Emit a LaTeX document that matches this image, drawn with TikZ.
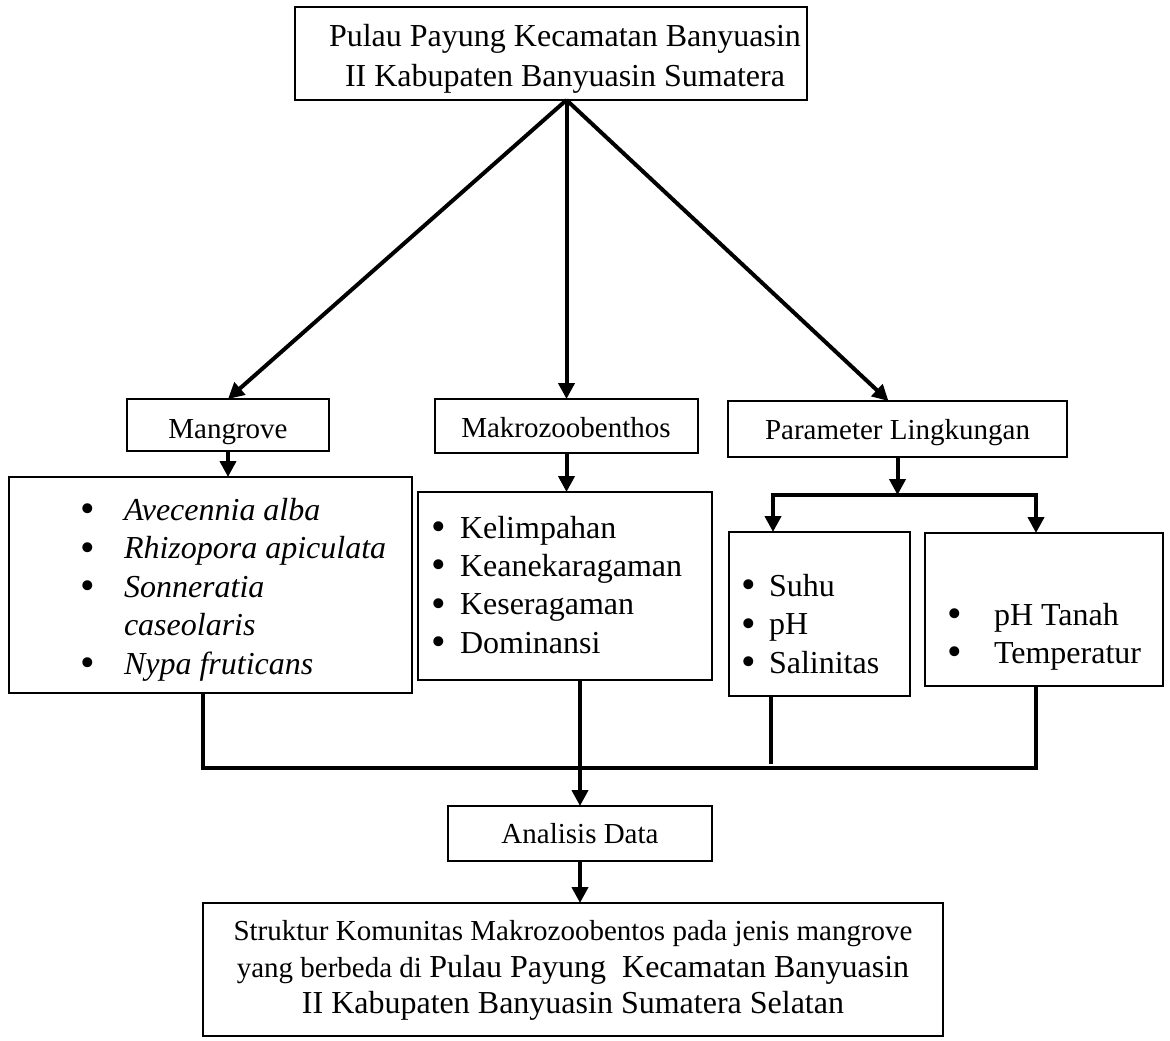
\documentclass[tikz,border=0pt]{standalone}
\usepackage{fontspec}
\setmainfont{Liberation Serif}
\usetikzlibrary{arrows.meta}
\newcommand\mybul{\raisebox{-2.5pt}{\scalebox{1.3}{\textbullet}}}
\begin{document}
\begin{tikzpicture}[x=1pt,y=-1pt,
  box/.style={draw, line width=2.7pt, inner sep=0pt, outer sep=0pt},
  thinbox/.style={draw, line width=1.3pt, inner sep=0pt, outer sep=0pt},
  txt/.style={inner sep=0pt, outer sep=0pt, anchor=base},
  big/.style={font=\fontsize{32}{38}\selectfont},
  small/.style={font=\fontsize{29}{35}\selectfont},
  itm/.style={inner sep=0pt, outer sep=0pt, anchor=base west, font=\fontsize{32}{38}\selectfont},
  conn/.style={line width=4pt, line join=miter},
  arr/.style={line width=4pt, line join=miter, -{Triangle[length=16pt,width=16pt]}},
]
\useasboundingbox (0,0) rectangle (1170,1041);

% boxes
\node[box, minimum width=512pt, minimum height=93pt] (top) at (551,53.5) {};
\node[box, minimum width=202pt, minimum height=52pt] (mang) at (228,425) {};
\node[box, minimum width=263pt, minimum height=54pt] (makro) at (566.5,426) {};
\node[box, minimum width=339pt, minimum height=56pt] (param) at (897.5,429) {};
\node[box, minimum width=403pt, minimum height=216pt] (mlist) at (210.5,585) {};
\node[box, minimum width=294pt, minimum height=188pt] (klist) at (565,586) {};
\node[box, minimum width=181pt, minimum height=164pt] (slist) at (819.5,614) {};
\node[thinbox, minimum width=238pt, minimum height=153pt] (tlist) at (1044,609.5) {};
\node[box, minimum width=264pt, minimum height=55pt] (anal) at (580,833.5) {};
\node[box, minimum width=740pt, minimum height=133pt] (final) at (573,969.5) {};

% texts
\node[txt, big] (t1) at (565,47) {Pulau Payung Kecamatan Banyuasin};
\node[txt, big] (t2) at (565,87) {II Kabupaten Banyuasin Sumatera};
\node[txt, small] (mangt) at (228,438) {Mangrove};
\node[txt, small] (makrot) at (566,437) {Makrozoobenthos};
\node[txt, small] (paramt) at (897.5,439) {Parameter Lingkungan};
\node[txt, small] (analt) at (580,843) {Analisis Data};
\node[txt, small] (f1) at (573,940) {Struktur Komunitas Makrozoobentos pada jenis mangrove};
\node[txt] (f2) at (573,977) {{\fontsize{29}{35}\selectfont yang berbeda di }{\fontsize{32}{38}\selectfont Pulau Payung\ \ Kecamatan Banyuasin}};
\node[txt, big] (f3) at (573,1013) {II Kabupaten Banyuasin Sumatera Selatan};

% mangrove list
\node[itm] (m1) at (80,520) {\makebox[44pt][l]{\mybul}\textit{Avecennia alba}};
\node[itm] (m2) at (80,558.5) {\makebox[44pt][l]{\mybul}\textit{Rhizopora apiculata}};
\node[itm] (m3) at (80,597) {\makebox[44pt][l]{\mybul}\textit{Sonneratia}};
\node[itm] (m3b) at (124,635.5) {\textit{caseolaris}};
\node[itm] (m4) at (80,674) {\makebox[44pt][l]{\mybul}\textit{Nypa fruticans}};

% makro list
\node[itm] (k1) at (431,538) {\makebox[29pt][l]{\mybul}Kelimpahan};
\node[itm] (k2) at (431,576.3) {\makebox[29pt][l]{\mybul}Keanekaragaman};
\node[itm] (k3) at (431,614.6) {\makebox[29pt][l]{\mybul}Keseragaman};
\node[itm] (k4) at (431,653) {\makebox[29pt][l]{\mybul}Dominansi};

% suhu list
\node[itm] (s1) at (741,596) {\makebox[28pt][l]{\mybul}Suhu};
\node[itm] (s2) at (741,634.5) {\makebox[28pt][l]{\mybul}pH};
\node[itm] (s3) at (741,673) {\makebox[28pt][l]{\mybul}Salinitas};

% tanah list
\node[itm] (p1) at (947,625) {\makebox[47pt][l]{\mybul}pH Tanah};
\node[itm] (p2) at (947,663) {\makebox[47pt][l]{\mybul}Temperatur};

% connectors from top
\coordinate (apex) at (top.south -| makro.north);
\draw[arr] (apex) -- (mang.north);
\draw[arr] (apex) -- (makro.north);
\draw[arr] (apex) -- ([xshift=-9pt]param.north);

\draw[arr] (mang.south) -- (mang.south |- mlist.north);
\draw[arr] (makro.south) -- (makro.south |- klist.north);

\coordinate (split) at (param.south |- 0,495);
\coordinate (sl) at (773,495);
\coordinate (sr) at (1036,495);
\draw[arr] (param.south) -- (split);
\draw[arr] (sr) -- (sl) -- (sl |- slist.north);
\draw[arr] (sl) -- (sr) -- (sr |- tlist.north);

% bottom collector
\coordinate (bl) at (203,768);
\coordinate (br) at (1036,768);
\coordinate (sj) at (771,764);
\draw[conn] (mlist.south -| bl) -- (bl) -- (br) -- (tlist.south -| br);
\draw[conn] (slist.south -| sj) -- (sj);
\draw[arr] (klist.south -| anal.north) -- (anal.north);
\draw[arr] (anal.south) -- (anal.south |- final.north);
\end{tikzpicture}
\end{document}
